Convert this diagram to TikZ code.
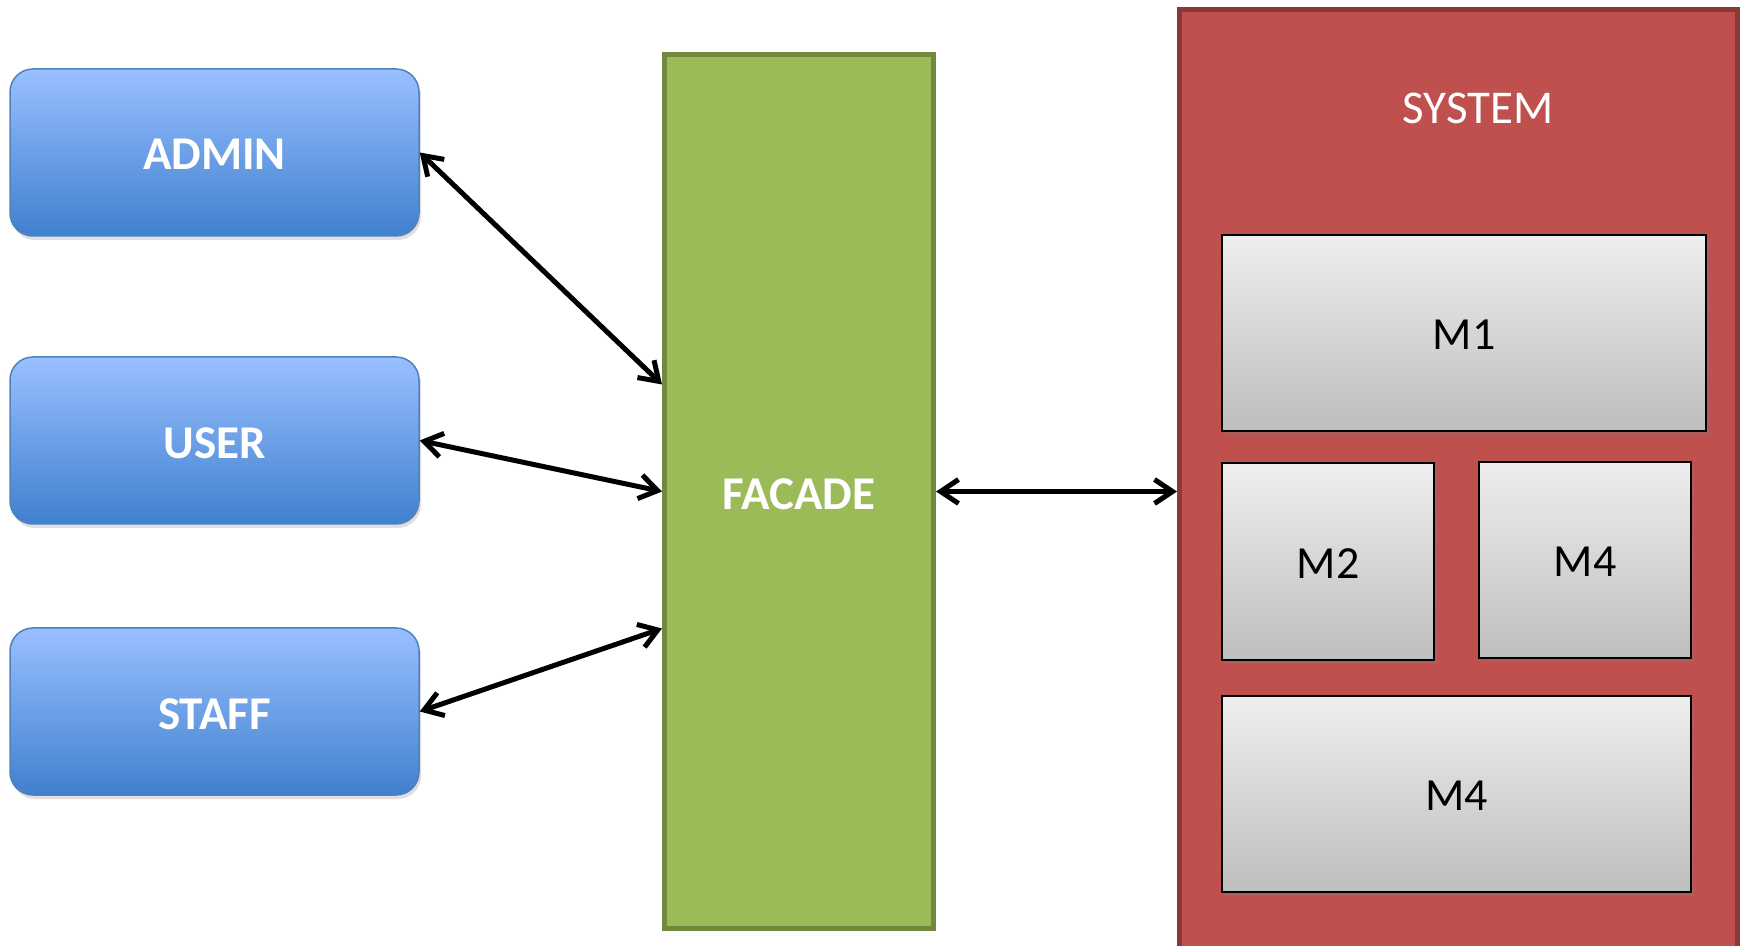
\documentclass[tikz,border=0pt]{standalone}
\usepackage{fontspec}
\setmainfont{Carlito}
\usetikzlibrary{arrows.meta,shadows,calc}
\definecolor{bluetop}{RGB}{153,192,255}
\definecolor{bluebot}{RGB}{64,128,206}
\definecolor{blueline}{RGB}{79,129,189}
\definecolor{facadefill}{RGB}{155,187,89}
\definecolor{facadeline}{RGB}{113,137,63}
\definecolor{sysfill}{RGB}{192,80,77}
\definecolor{sysline}{RGB}{140,56,54}
\definecolor{grtop}{RGB}{238,238,238}
\definecolor{grbot}{RGB}{190,190,190}
\newcommand{\lowtext}[1]{\raisebox{-1.1pt}[\height][0pt]{#1}}
\tikzset{
  actor/.style={draw=blueline, line width=0.75pt, rounded corners=11.5pt,
    top color=bluetop, bottom color=bluebot,
    minimum width=204.5pt, minimum height=83.5pt, inner sep=0pt,
    text=white, font=\fontsize{23.5}{28}\selectfont\bfseries,
    drop shadow={opacity=0.25, shadow xshift=1pt, shadow yshift=-2pt}},
  module/.style={draw=black, line width=1pt, top color=grtop, bottom color=grbot,
    inner sep=0pt, text=black, font=\fontsize{23}{28}\selectfont,
    drop shadow={opacity=0.3, shadow xshift=1.5pt, shadow yshift=-2pt}},
  conn/.style={line width=2.5pt, black,
    {Straight Barb[length=9pt,width=12pt]}-{Straight Barb[length=9pt,width=12pt]}}
}
\begin{document}
\begin{tikzpicture}[x=0.5pt,y=-0.5pt]
\useasboundingbox (0,0) rectangle (1747,946);
\clip (0,0) rectangle (1747,946);
% actors
\node[actor] (admin) at (214.5,152.5) {\lowtext{ADMIN}};
\node[actor] (user)  at (214.5,440.5) {\lowtext{USER}};
\node[actor] (staff) at (214.5,711.5) {\lowtext{STAFF}};
% facade
\node[draw=facadeline, fill=facadefill, line width=2.5pt,
      minimum width=134.5pt, minimum height=437pt, inner sep=0pt,
      text=white, font=\fontsize{23.5}{28}\selectfont\bfseries]
      (facade) at (799,491.5) {\lowtext{FACADE}};
% system
\node[draw=sysline, fill=sysfill, line width=2.5pt,
      minimum width=279pt, minimum height=482pt, inner sep=0pt]
      (system) at (1458.5,492) {};
\node[text=white, font=\fontsize{23.5}{28}\selectfont, inner sep=0pt]
      (systitle) at (1478,108) {SYSTEM};
% modules
\node[module, minimum width=242pt, minimum height=98pt] (m1) at (1464,333) {\lowtext{M1}};
\node[module, minimum width=106pt, minimum height=98.5pt] (m2) at (1328,561.5) {\lowtext{M2}};
\node[module, minimum width=106pt, minimum height=98pt] (m4a) at (1585,560) {\lowtext{M4}};
\node[module, minimum width=234.5pt, minimum height=98pt] (m4b) at (1456.5,794) {\lowtext{M4}};
% connectors
\draw[conn] (admin.east) -- (facade.142);
\draw[conn] (user.east) -- (facade.west);
\draw[conn] (staff.east) -- (facade.225);
\draw[conn] (facade.east) -- (facade.east -| system.west);
\end{tikzpicture}
\end{document}
